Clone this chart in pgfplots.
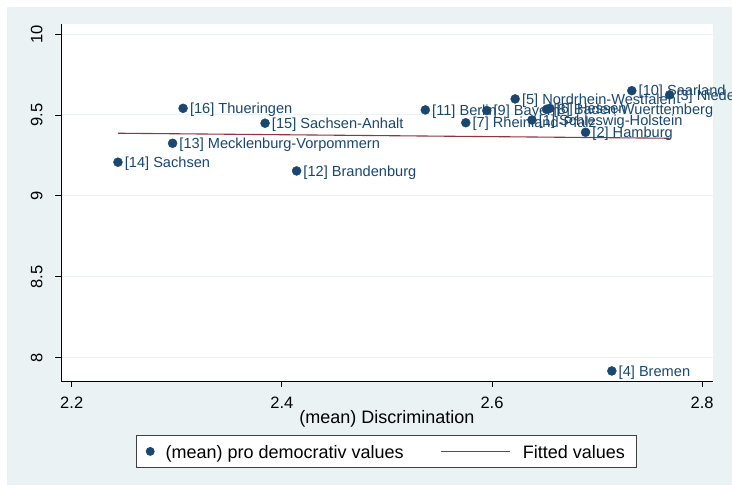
\documentclass[border=0pt]{standalone}
\usepackage{fontspec}
\setmainfont{Liberation Sans}
\usepackage{pgfplots}
\usepackage{pgfplotstable}
\pgfplotsset{compat=1.18}
\definecolor{bg}{RGB}{234,242,243}
\definecolor{navy}{RGB}{26,71,111}
\definecolor{maroon}{RGB}{144,53,59}
\definecolor{gridc}{RGB}{234,242,243}

\pgfplotstableread[col sep=comma]{
x,y,label
2.638,9.469,[1] Schleswig-Holstein
2.689,9.393,[2] Hamburg
2.769,9.624,[3] Niedersachsen
2.714,7.918,[4] Bremen
2.622,9.599,[5] Nordrhein-Westfalen
2.655,9.541,[6] Hessen
2.575,9.452,[7] Rheinland-Pfalz
2.652,9.535,[8] Baden-Wuerttemberg
2.595,9.527,[9] Bayern
2.733,9.650,[10] Saarland
2.5365,9.531,[11] Berlin
2.414,9.154,[12] Brandenburg
2.296,9.325,[13] Mecklenburg-Vorpommern
2.244,9.208,[14] Sachsen
2.384,9.449,[15] Sachsen-Anhalt
2.306,9.541,[16] Thueringen
}\states

\begin{document}
\begin{tikzpicture}[x=1pt,y=1pt]
\useasboundingbox (0,0) rectangle (732,488);
\fill[white] (0,0) rectangle (732,488);
\fill[bg] (7,3) rectangle (732,481);
\begin{axis}[
  at={(61pt,107pt)}, anchor=south west,
  scale only axis, width=651.7pt, height=357pt,
  xmin=2.1898, xmax=2.810, ymin=7.856, ymax=10.062,
  axis lines*=left,
  axis line style={black, line width=0.8pt},
  axis background/.style={fill=white},
  xtick={2.2,2.4,2.6,2.8}, ytick={8,8.5,9,9.5,10},
  tick align=outside, major tick length=6pt,
  tick style={black, line width=0.8pt},
  ymajorgrids, major grid style={gridc, line width=1pt},
  /pgf/number format/assume math mode=true,
  tick label style={font=\fontsize{16.5}{18}\selectfont},
  xticklabel style={anchor=base},
  xticklabel shift=21pt,
  yticklabel style={rotate=90, anchor=south},
  yticklabel shift=9pt,
  xlabel={(mean) Discrimination},
  xlabel style={font=\fontsize{18}{20}\selectfont, at={(axis description cs:0.5,0)}, anchor=base, yshift=-42pt},
  legend columns=2,
  legend cell align=left,
  legend style={at={(axis description cs:0.5,0)}, anchor=north, yshift=-54pt,
    draw=black!75, line width=0.8pt, fill=white, inner xsep=0pt, inner ysep=0pt,
    font=\fontsize{18}{20}\selectfont,
    nodes={inner sep=0pt, text height=23.3pt, text depth=8.7pt},
    /tikz/every even column/.append style={column sep=37pt}},
]
\addplot[only marks, mark=*, mark size=4.5pt, color=navy, mark options={draw=navy, fill=navy},
  nodes near coords, point meta=explicit symbolic,
  nodes near coords style={anchor=base west, inner sep=0pt, xshift=6.7pt, yshift=-5.2pt,
    font=\fontsize{14.6}{16}\selectfont, text=navy},
  legend image code/.code={\path (-13pt,0pt) (15pt,0pt); \fill[navy] (0pt,0pt) circle (4pt);}]
  table[x=x, y=y, meta=label] {\states};
\addlegendentry{(mean) pro democrativ values}
\addplot[color=maroon, line width=1.1pt,
  legend image code/.code={\draw[maroon, line width=1.1pt] (0pt,0pt) -- (69pt,0pt); \path (81pt,0pt);}]
  coordinates {(2.244,9.387) (2.769,9.356)};
\addlegendentry{Fitted values\hspace*{12pt}}
\end{axis}
\end{tikzpicture}
\end{document}
